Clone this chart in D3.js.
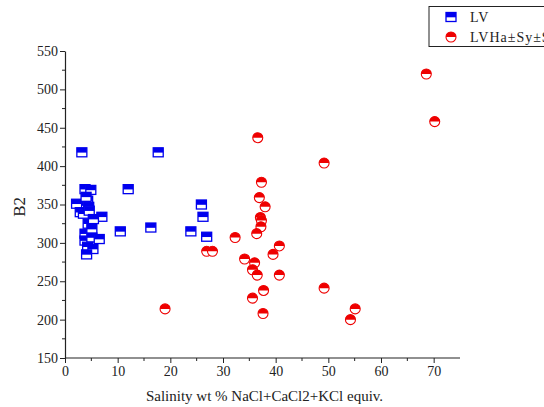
<!DOCTYPE html>
<html lang="en">
<head>
    <meta charset="utf-8">
    <script src='https://d3js.org/d3.v7.min.js'></script>
    <title>B2 vs Salinity</title>
    <style>
      body { margin: 0; background: #fff; overflow: hidden; }
      text { font-family: 'Times New Roman', 'Liberation Serif', 'DejaVu Serif', serif; fill: #222; }
    </style>
</head>
<body>
<script>
  var width = 544, height = 407;

  // data
  var lvSal = [3.2, 17.7, 12.0, 3.8, 4.9, 2.2, 4.3, 4.0, 2.9, 4.5, 3.5, 4.6, 7.0, 4.4, 5.4,
               3.8, 5.1, 3.8, 5.1, 6.5, 4.3, 5.3, 4.1, 10.5, 16.3, 23.9, 25.9, 26.2, 26.9];
  var lvB2  = [418, 418, 370, 370, 369, 351, 355, 360, 340, 347, 338, 342, 334, 325, 331,
               312, 318, 303, 307, 305, 295, 292, 285, 315, 320, 315, 350, 334, 308];

  var lvhSal = [19.0, 36.6, 49.2, 37.3, 36.9, 38.0, 37.1, 37.3, 37.2, 36.4, 32.3, 40.7, 39.5, 26.9,
                28.0, 34.1, 36.0, 35.6, 36.5, 40.7, 37.7, 49.2, 35.6, 37.6, 55.1, 54.2, 68.6, 70.2];
  var lvhB2  = [214, 437, 404, 379, 359, 347, 333, 329, 321, 312, 307, 296, 285, 289,
                289, 279, 274, 265, 258, 258, 238, 241, 228, 208, 214, 200, 520, 458];

  var xTicks = [0, 10, 20, 30, 40, 50, 60, 70];
  var yTicks = [150, 200, 250, 300, 350, 400, 450, 500, 550];
  var legendLabels = ['LV', 'LVHa\u00B1Sy\u00B1Sl'];

  var serif = "'Times New Roman', 'Liberation Serif', serif";
  var margin = {left: 65, right: 84, top: 51, bottom: 49};

  var svg = d3.select('body').append('svg')
    .attr('width', width)
    .attr('height', height);

  var x = d3.scaleLinear().domain([0, 75]).range([margin.left, width - margin.right]);
  var y = d3.scaleLinear().domain([150, 550]).range([height - margin.bottom, margin.top]);

  // minor ticks
  var g = svg.append('g');
  g.selectAll('.xminor').data(d3.range(5, 75, 10)).join('line')
    .attr('x1', d => x(d)).attr('x2', d => x(d))
    .attr('y1', y(150)).attr('y2', y(150) + 3)
    .attr('stroke', '#222');
  g.selectAll('.yminor').data(d3.range(175, 550, 50)).join('line')
    .attr('y1', d => y(d)).attr('y2', d => y(d))
    .attr('x1', x(0)).attr('x2', x(0) - 3)
    .attr('stroke', '#222');

  var xAxis = svg.append('g')
    .attr('transform', 'translate(0,' + y(150) + ')')
    .call(d3.axisBottom(x).tickValues(xTicks).tickSize(5).tickPadding(3).tickSizeOuter(0));
  var yAxis = svg.append('g')
    .attr('transform', 'translate(' + x(0) + ',0)')
    .call(d3.axisLeft(y).tickValues(yTicks).tickSize(5).tickPadding(2).tickSizeOuter(0));

  [xAxis, yAxis].forEach(function(a) {
    a.attr('font-family', serif);
    a.select('.domain').attr('stroke', '#222').attr('stroke-width', 1.2);
    a.selectAll('.tick line').attr('stroke', '#222');
    a.selectAll('.tick text').style('font-family', serif)
      .style('font-size', '14px').attr('fill', '#444');
  });
  // extend x axis to the end of the domain
  xAxis.select('.domain').attr('d', 'M' + x(0) + ',0H' + x(75));

  svg.append('text')
    .attr('x', (x(0) + x(75)) / 2 + 2).attr('y', 401)
    .attr('text-anchor', 'middle')
    .style('font-family', serif)
    .style('font-size', '15px')
    .text('Salinity wt % NaCl+CaCl2+KCl equiv.');

  svg.append('text')
    .attr('transform', 'translate(25,' + y(347) + ') rotate(-90)')
    .attr('text-anchor', 'middle')
    .style('font-family', serif)
    .style('font-size', '17px')
    .attr('fill', '#444')
    .text('B2');

  // half filled square marker
  function squareMark(sel, cx, cy) {
    sel.append('rect').attr('x', cx - 5).attr('y', cy - 4.5).attr('width', 10).attr('height', 9)
      .attr('fill', '#fff').attr('stroke', '#0000ee').attr('stroke-width', 1.3);
    sel.append('rect').attr('x', cx - 5).attr('y', cy - 4.5).attr('width', 10).attr('height', 4.8)
      .attr('fill', '#0000ee');
  }
  // half filled circle marker
  var r = 5;
  function circleMark(sel, cx, cy) {
    sel.append('circle').attr('cx', cx).attr('cy', cy).attr('r', r)
      .attr('fill', '#fff').attr('stroke', '#ee0000').attr('stroke-width', 1.1);
    sel.append('path')
      .attr('d', 'M' + (cx - r) + ',' + cy + 'A' + r + ',' + r + ' 0 0 1 ' + (cx + r) + ',' + cy + 'Z')
      .attr('fill', '#ee0000');
  }

  var lvG = svg.append('g');
  lvSal.forEach(function(s, i) { squareMark(lvG.append('g'), x(s), y(lvB2[i])); });
  var lvhG = svg.append('g');
  lvhSal.forEach(function(s, i) { circleMark(lvhG.append('g'), x(s), y(lvhB2[i])); });

  // legend (cut off by the right edge, as in the source image)
  var lg = svg.append('g');
  lg.append('rect').attr('x', 429).attr('y', 6.5).attr('width', 130).attr('height', 40)
    .attr('fill', '#fff').attr('stroke', '#222').attr('stroke-width', 1);
  squareMark(lg, 451, 17);
  circleMark(lg, 451, 37);
  lg.selectAll('.lt').data(legendLabels).join('text')
    .attr('x', 470).attr('y', (d, i) => 21.5 + i * 20)
    .style('font-family', serif)
    .style('font-size', '14px').style('letter-spacing', '1px')
    .text(d => d);
</script>
</body>
</html>
